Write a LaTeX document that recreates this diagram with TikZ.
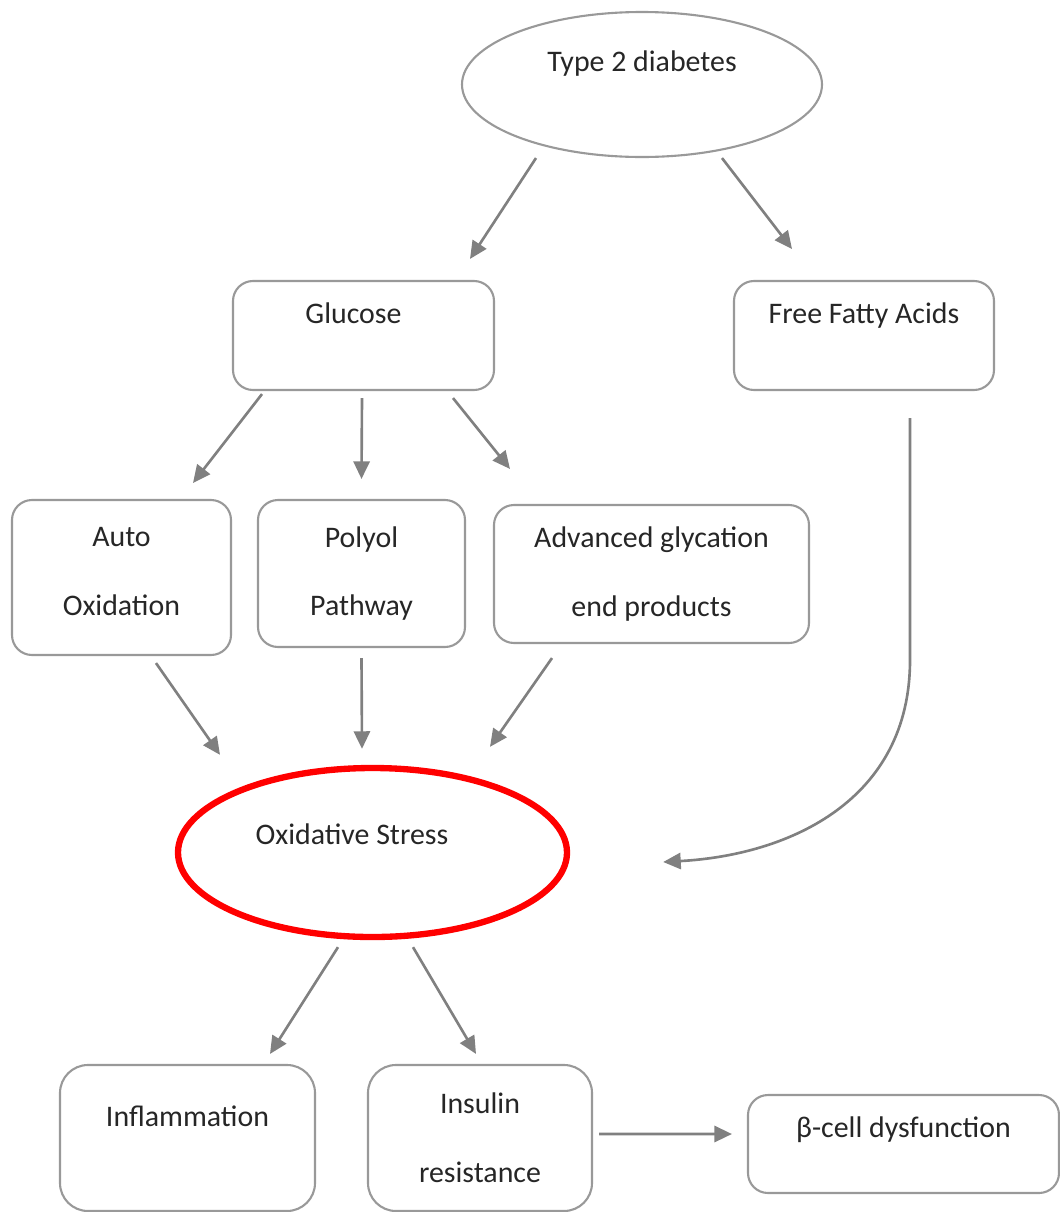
\documentclass[tikz,border=0pt]{standalone}
\usepackage{fontspec}
\setmainfont{Carlito}
\usetikzlibrary{shapes.geometric,arrows.meta,positioning,calc}

\tikzset{
  box/.style={draw=gray!80, line width=0.6pt, rounded corners=0.2cm, align=center, text=black!85},
  oval/.style={ellipse, draw=gray!80, line width=0.6pt, text=black!85},
  flow/.style={draw=gray, line width=0.75pt, -{Triangle[length=5pt,width=4.6pt]}},
  uptext/.style={text height=0.2cm, text depth=#1},
}

\begin{document}
\begin{tikzpicture}[font=\fontsize{8.5}{19.6}\selectfont]
    \useasboundingbox (0,0) rectangle (10.59,-12.12);

    % Top
    \node[oval, minimum width=3.6cm, minimum height=1.45cm, uptext=0.47cm] (t2d) at (6.42,-0.845) {Type 2 diabetes};

    % Sources
    \node[box, minimum width=2.61cm, minimum height=1.09cm, uptext=0.45cm] (glu) at (3.635,-3.355) {Glucose\hspace*{0.2cm}};
    \node[box, minimum width=2.60cm, minimum height=1.09cm, uptext=0.45cm] (ffa) at (8.64,-3.355) {Free Fatty Acids};

    % Pathways
    \node[box, minimum width=2.19cm, minimum height=1.55cm, text depth=0.12cm] (auto) at (1.215,-5.775) {Auto\\Oxidation};
    \node[box, minimum width=2.07cm, minimum height=1.47cm] (poly) at (3.615,-5.735) {Polyol\\Pathway};
    \node[box, minimum width=3.15cm, minimum height=1.38cm] (age) at (6.515,-5.74) {Advanced glycation\\end products};

    % Stress
    \node[ellipse, draw=red, line width=1.8pt, text=black!85, minimum width=3.89cm, minimum height=1.69cm, uptext=0.37cm] (ox) at (3.725,-8.525) {Oxidative Stress\hspace*{0.41cm}};

    % Outcomes
    \node[box, rounded corners=0.28cm, minimum width=2.55cm, minimum height=1.46cm, uptext=0.44cm] (infl) at (1.875,-11.38) {Inflammation};
    \node[box, rounded corners=0.28cm, minimum width=2.24cm, minimum height=1.46cm] (ins) at (4.80,-11.38) {Insulin\\resistance};
    \node[box, minimum width=3.11cm, minimum height=0.98cm, uptext=0.34cm] (beta) at (9.035,-11.44) {β-cell dysfunction};

    % Arrows
    \draw[flow] ([xshift=-1.06cm]t2d.south) -- ([xshift=1.065cm,yshift=0.21cm]glu.north);
    \draw[flow] ([xshift=0.80cm]t2d.south) -- ([xshift=-0.72cm,yshift=0.31cm]ffa.north);
    \draw[flow] ([xshift=-1.015cm,yshift=-0.03cm]glu.south) -- ([xshift=0.715cm,yshift=0.16cm]auto.north);
    \draw[flow] ([xshift=-0.015cm,yshift=-0.07cm]glu.south) -- ([yshift=0.2cm]poly.north);
    \draw[flow] ([xshift=0.895cm,yshift=-0.07cm]glu.south) -- ([xshift=-1.415cm,yshift=0.35cm]age.north);
    \draw[flow] ([xshift=0.345cm,yshift=-0.07cm]auto.south) -- ([xshift=-1.525cm,yshift=0.10cm]ox.north);
    \draw[flow] ([yshift=-0.1cm]poly.south) -- ([xshift=-0.105cm,yshift=0.16cm]ox.north);
    \draw[flow] ([xshift=-0.995cm,yshift=-0.14cm]age.south) -- ([xshift=1.175cm,yshift=0.18cm]ox.north);
    \draw[flow] ([xshift=0.46cm,yshift=-0.27cm]ffa.south) -- (9.10,-6.6) .. controls (9.10,-8.0) and (7.9,-8.55) .. ([xshift=0.93cm,yshift=-0.095cm]ox.east);
    \draw[flow] ([xshift=-0.345cm,yshift=-0.07cm]ox.south) -- ([xshift=0.825cm,yshift=0.10cm]infl.north);
    \draw[flow] ([xshift=0.405cm,yshift=-0.07cm]ox.south) -- ([xshift=-0.04cm,yshift=0.10cm]ins.north);
    \draw[flow] ([xshift=0.06cm,yshift=0.04cm]ins.east) -- ([xshift=-0.15cm,yshift=0.10cm]beta.west);
\end{tikzpicture}
\end{document}
